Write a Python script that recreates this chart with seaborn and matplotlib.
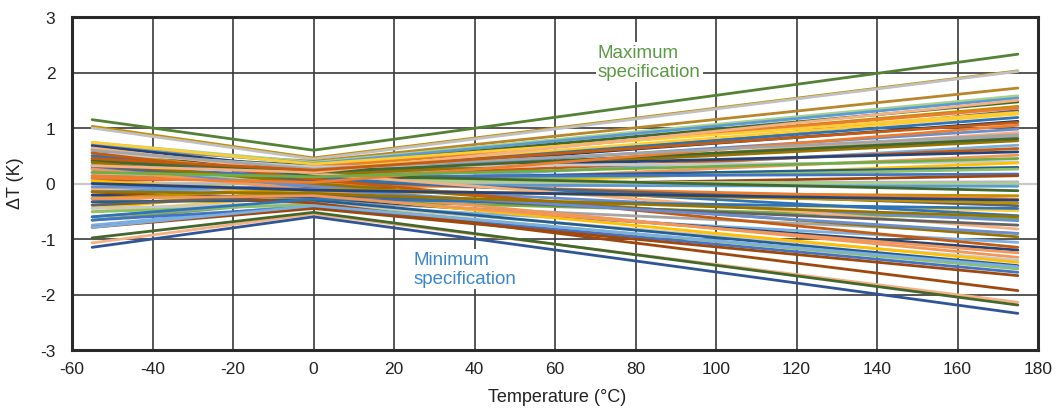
import numpy as np
import pandas as pd
import matplotlib
matplotlib.use("Agg")
import matplotlib.pyplot as plt
import seaborn as sns

# Temperatures where each device was measured
temps = [-55, 0, 175]

# Delta T (K) of each device at -55, 0 and 175 degC
dT_m55 = [1.03, 1.00, 0.64, 0.74, 0.70, 0.55, 0.50, 0.41, 0.26, 0.45,
          0.32, 0.60, 0.38, -0.10, 0.14, 0.20, -0.21, 0.05, 0.68, -0.33,
          0.55, -0.45, 0.10, -0.06, 0.30, -0.27, 0.00, 0.20, -0.15, 0.41,
          -0.39, 0.14, 0.32, -0.51, 0.50, -0.66, 0.26, 0.64, -0.60, 0.38,
          -0.75, 0.55, -0.21, 0.26, -0.45, 0.05, -0.33, -0.51, -0.66, -0.79,
          -0.15, -1.07, -0.98, 0.45, -0.27, 0.10, -0.39, 0.74, -0.60, 0.20,
          -0.06, 0.32, 0.60, -0.15, -0.79, 0.45, 0.00, -0.27,
          1.15, -1.15]
dT_0 = [0.46, 0.44, 0.40, 0.38, 0.36, 0.32, 0.28, 0.30, 0.10, 0.25,
        0.22, 0.20, 0.18, 0.05, 0.12, 0.15, -0.02, 0.10, 0.25, -0.05,
        0.30, -0.10, 0.08, 0.02, 0.12, -0.08, 0.00, 0.05, -0.03, 0.15,
        -0.15, 0.00, 0.05, -0.22, 0.10, -0.30, -0.05, 0.18, -0.32, 0.00,
        -0.38, 0.08, -0.25, -0.12, -0.35, -0.20, -0.30, -0.38, -0.42, -0.45,
        -0.35, -0.55, -0.52, 0.20, -0.10, 0.02, -0.20, 0.35, -0.28, 0.12,
        -0.10, 0.20, 0.26, -0.18, -0.40, 0.24, -0.12, -0.22,
        0.60, -0.60]
dT_175 = [2.03, 2.02, 1.72, 1.58, 1.54, 1.47, 1.39, 1.36, 1.31, 1.25,
          1.19, 1.12, 0.98, 0.92, 0.85, 0.77, 0.69, 0.63, 0.57, 0.51,
          0.39, 0.37, 0.29, 0.26, 0.17, 0.14, 0.03, -0.01, -0.05, -0.13,
          -0.22, -0.28, -0.40, -0.49, -0.58, -0.64, -0.67, -0.82, -0.90, -0.96,
          -1.06, -1.15, -1.20, -1.33, -1.38, -1.42, -1.48, -1.54, -1.60, -1.66,
          -1.93, -2.14, -2.19, 0.81, -0.35, 1.05, -0.75, 1.28, -0.45, 0.45,
          -0.90, 1.50, 0.88, -0.60, -1.50, 1.10, -0.30, -1.25,
          2.33, -2.34]
devices = [f"D{i + 1}" for i in range(len(dT_0) - 2)] + ["Maximum", "Minimum"]

excel_colors = ["#4472C4", "#ED7D31", "#A5A5A5", "#FFC000", "#5B9BD5", "#70AD47",
                "#264478", "#9E480E", "#636363", "#997300", "#255E91", "#43682B",
                "#698ED0", "#F1975A", "#B7B7B7", "#FFCD33", "#7CAFDD", "#8CC168",
                "#BF9000", "#F4B183", "#C9C9C9", "#A9D18E", "#2F75B5", "#C55A11"]
palette = {d: excel_colors[(i * 7) % len(excel_colors)] for i, d in enumerate(devices[:-2])}
palette["D1"] = "#BF9000"
palette["D2"] = "#C0C0C0"
palette["D3"] = "#B8862B"
palette["D12"] = "#1F3864"
palette["D51"] = "#9E480E"
palette["D52"] = "#F4B183"
palette["D53"] = "#43682B"
palette["Maximum"] = "#548235"
palette["Minimum"] = "#2F5597"

rows = []
for d, a, b, c in zip(devices, dT_m55, dT_0, dT_175):
    for t, v in zip(temps, (a, b, c)):
        rows.append({"device": d, "Temperature": t, "dT": v})
df = pd.DataFrame(rows)

sns.set_theme(style="white")
plt.rcParams["font.family"] = ["Liberation Sans", "DejaVu Sans"]
plt.rcParams["axes.unicode_minus"] = False

fig = plt.figure(figsize=(10.58, 4.10), dpi=100)
ax = fig.add_axes([72 / 1058, 1 - 351 / 410, 966 / 1058, 333 / 410])

sns.lineplot(data=df, x="Temperature", y="dT", hue="device", hue_order=devices,
             palette=palette, legend=False, linewidth=2.0, estimator=None,
             sort=False, ax=ax, zorder=3)

ax.set_xlim(-60, 180)
ax.set_ylim(-3, 3)
ax.set_xticks(np.arange(-60, 181, 20))
ax.set_yticks(np.arange(-3, 4, 1))
ax.set_xlabel("")
ax.set_ylabel("")
ax.grid(True, color="#3a3a3a", linewidth=1.2)
ax.set_axisbelow(True)
ax.axhline(0, color="#c8c8c8", linewidth=1.6, zorder=1.5)
for s in ax.spines.values():
    s.set_color("#2a2a2a")
    s.set_linewidth(2.2)
ax.tick_params(axis="both", length=0, labelsize=12.5, colors="#222222")
ax.tick_params(axis="y", pad=12)
ax.tick_params(axis="x", pad=8)

fig.text(557 / 1058, 1 - 398 / 410, "Temperature (°C)", ha="center", va="center",
         fontsize=13, color="#222222")
fig.text(16 / 1058, 1 - 183 / 410, "ΔT (K)", ha="center", va="center",
         rotation=90, fontsize=13, color="#222222")

ax.text(70.6, 2.19, "Maximum\nspecification", ha="left", va="center",
        fontsize=13.5, color="#5A9A45", linespacing=1.15, zorder=5,
        bbox=dict(facecolor="white", edgecolor="none", pad=1.5))
ax.text(24.8, -1.54, "Minimum\nspecification", ha="left", va="center",
        fontsize=13.5, color="#3B87C9", linespacing=1.15, zorder=5,
        bbox=dict(facecolor="white", edgecolor="none", pad=1.5))

fig.savefig("out.png", dpi=100)
